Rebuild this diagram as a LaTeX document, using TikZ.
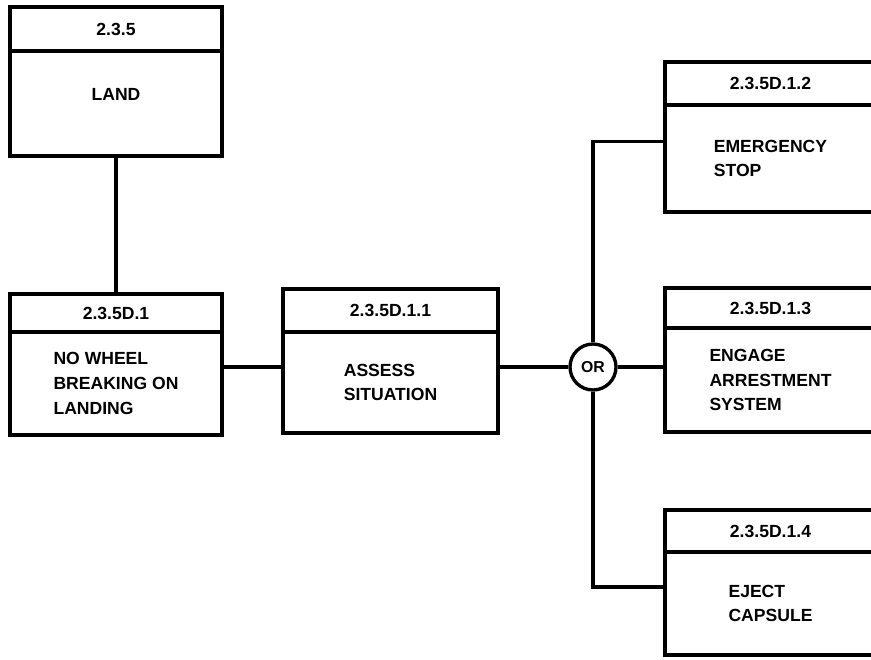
\documentclass[tikz,border=0pt]{standalone}
\usepackage{fontspec}
\setsansfont{Liberation Sans}
\usetikzlibrary{positioning}
\tikzset{
  hdr/.style={draw, line width=1.9pt, outer sep=0pt, inner sep=0pt, minimum width=#1},
  bdy/.style={draw, line width=1.9pt, outer sep=0pt, inner sep=0pt, minimum width=#1, align=left},
  link/.style={line width=1.9pt}
}
\begin{document}
\begin{tikzpicture}[x=0.02cm, y=-0.02cm, every node/.style={font=\sffamily\bfseries\fontsize{10}{14}\selectfont}]
  \useasboundingbox (0,0) rectangle (871,659);
  \clip (0,0) rectangle (871,659);
  % --- Boxes (header + body) ---
  \node[hdr=4.24cm, minimum height=0.88cm] (landh) at (116,29) {2.3.5};
  \node[bdy=4.24cm, minimum height=2.10cm, below=0pt of landh] (landb) {LAND\\[-4pt]};

  \node[hdr=4.24cm, minimum height=0.76cm] (nowh) at (116,313) {2.3.5D.1};
  \node[bdy=4.24cm, minimum height=2.06cm, below=0pt of nowh] (nowb) {NO WHEEL\\BREAKING ON\\LANDING};

  \node[hdr=4.30cm, minimum height=0.86cm] (assh) at (390.5,310.5) {2.3.5D.1.1};
  \node[bdy=4.30cm, minimum height=2.02cm, below=0pt of assh] (assb) {ASSESS\\SITUATION};

  \node[hdr=4.22cm, minimum height=0.86cm] (stoph) at (770.5,83.5) {2.3.5D.1.2};
  \node[bdy=4.22cm, minimum height=2.14cm, below=0pt of stoph] (stopb) {EMERGENCY\\STOP};

  \node[hdr=4.22cm, minimum height=0.80cm] (arrh) at (770.5,308) {2.3.5D.1.3};
  \node[bdy=4.22cm, minimum height=2.08cm, below=0pt of arrh] (arrb) {ENGAGE\\ARRESTMENT\\SYSTEM};

  \node[hdr=4.22cm, minimum height=0.84cm] (ejh) at (770.5,531) {2.3.5D.1.4};
  \node[bdy=4.22cm, minimum height=2.06cm, below=0pt of ejh] (ejb) {EJECT\\CAPSULE};

  % --- OR gate ---
  \node[circle, draw, line width=1.9pt, minimum size=0.92cm, inner sep=0pt,
        font=\sffamily\bfseries\fontsize{9}{10}\selectfont] (or) at (593,367) {OR};

  % --- Connectors ---
  \draw[link] (landb) -- (nowh);
  \draw[link] (nowb.east |- or) -- (assb.west |- or);
  \draw[link] (assb.east |- or) -- (or);
  \draw[link] (or) -- (arrb.west |- or);
  \draw[link] (or.north) |- ([yshift=0.34cm]stopb.west);
  \draw[link] (or.south) |- ([yshift=0.33cm]ejb.west);
\end{tikzpicture}
\end{document}
